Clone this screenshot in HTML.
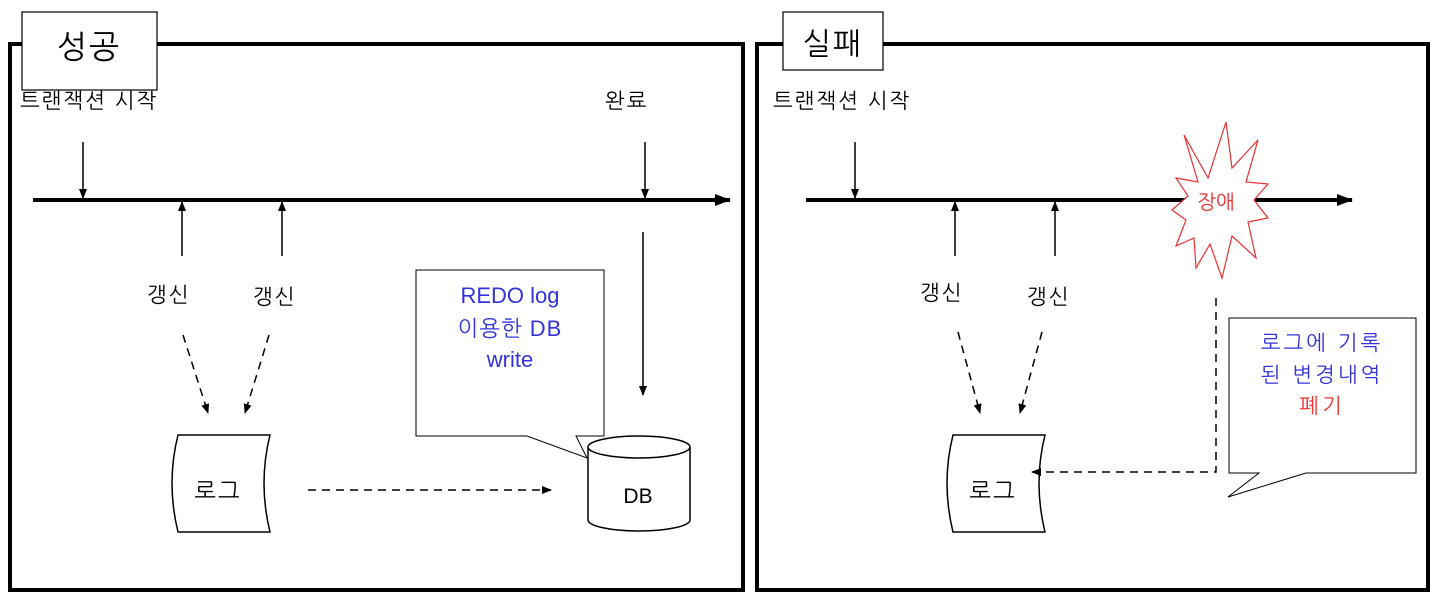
<!DOCTYPE html>
<html><head><meta charset="utf-8"><style>
body{margin:0;background:#fff;}
text{font-family:"Liberation Sans","NanumGothic","Noto Sans CJK KR",sans-serif;}
</style></head><body>
<svg width="1435" height="600" viewBox="0 0 1435 600" xmlns="http://www.w3.org/2000/svg">
<defs>
<marker id="a" markerWidth="10" markerHeight="10" refX="9" refY="5" orient="auto" markerUnits="userSpaceOnUse"><path d="M0,1 L10,5 L0,9 z" fill="#000"/></marker>
<marker id="b" markerWidth="16" markerHeight="14" refX="15" refY="7" orient="auto" markerUnits="userSpaceOnUse"><path d="M0,1 L16,7 L0,13 z" fill="#000"/></marker>
</defs>
<g fill="none" stroke="#000">
<rect x="10" y="44" width="733" height="546" stroke-width="4"/>
<rect x="757" y="44" width="671" height="546" stroke-width="4"/>
</g>
<rect x="22" y="12" width="135" height="78" fill="#fff" stroke="#000" stroke-width="1.2"/>
<rect x="783" y="12" width="100" height="58" fill="#fff" stroke="#000" stroke-width="1.2"/>
<text x="89" y="58" font-size="32" text-anchor="middle" letter-spacing="2">성공</text>
<text x="833" y="54" font-size="30" text-anchor="middle" letter-spacing="2">실패</text>

<g font-size="21" letter-spacing="2">
<text x="20" y="108">트랜잭션 시작</text>
<text x="605" y="108">완료</text>
<text x="773" y="108">트랜잭션 시작</text>
<text x="147" y="302">갱신</text>
<text x="253" y="304">갱신</text>
<text x="920" y="300">갱신</text>
<text x="1027" y="304">갱신</text>
</g>

<!-- log shapes -->
<path d="M178,435 L270,435 Q258,483 270,532 L178,532 Q166,483 178,435 Z" fill="#fff" stroke="#000" stroke-width="1.5"/>
<text x="218" y="499" font-size="23" text-anchor="middle" letter-spacing="2">로그</text>
<path d="M953,435 L1045,435 Q1033,483 1045,532 L953,532 Q941,483 953,435 Z" fill="#fff" stroke="#000" stroke-width="1.5"/>
<text x="993" y="499" font-size="23" text-anchor="middle" letter-spacing="2">로그</text>

<g stroke="#000" fill="none">
<line x1="33" y1="200" x2="730" y2="200" stroke-width="4" marker-end="url(#b)"/>
<line x1="83" y1="142" x2="83" y2="198" stroke-width="1.5" marker-end="url(#a)"/>
<line x1="645" y1="142" x2="645" y2="198" stroke-width="1.5" marker-end="url(#a)"/>
<line x1="182" y1="256" x2="182" y2="202" stroke-width="1.5" marker-end="url(#a)"/>
<line x1="282" y1="256" x2="282" y2="202" stroke-width="1.5" marker-end="url(#a)"/>
<line x1="643" y1="232" x2="643" y2="395" stroke-width="1.5" marker-end="url(#a)"/>
<line x1="183" y1="335" x2="208" y2="413" stroke-width="1.5" stroke-dasharray="8,6" marker-end="url(#a)"/>
<line x1="269" y1="335" x2="245" y2="413" stroke-width="1.5" stroke-dasharray="8,6" marker-end="url(#a)"/>
<line x1="308" y1="490" x2="551" y2="490" stroke-width="1.5" stroke-dasharray="8,6" marker-end="url(#a)"/>

<line x1="806" y1="200" x2="1352" y2="200" stroke-width="4" marker-end="url(#b)"/>
<line x1="855" y1="142" x2="855" y2="198" stroke-width="1.5" marker-end="url(#a)"/>
<line x1="955" y1="256" x2="955" y2="202" stroke-width="1.5" marker-end="url(#a)"/>
<line x1="1055" y1="256" x2="1055" y2="202" stroke-width="1.5" marker-end="url(#a)"/>
<line x1="958" y1="332" x2="980" y2="413" stroke-width="1.5" stroke-dasharray="8,6" marker-end="url(#a)"/>
<line x1="1042" y1="332" x2="1020" y2="413" stroke-width="1.5" stroke-dasharray="8,6" marker-end="url(#a)"/>
<polyline points="1216,298 1216,472 1032,472" stroke-width="1.5" stroke-dasharray="8,6" marker-end="url(#a)"/>
</g>

<!-- DB -->
<g fill="#fff" stroke="#000" stroke-width="1.5">
<path d="M588,447 L588,520 A51,11 0 0 0 690,520 L690,447"/>
<ellipse cx="639" cy="447" rx="51" ry="11"/>
</g>
<text x="638" y="503" font-size="21" text-anchor="middle">DB</text>

<!-- callouts -->
<path d="M416,270 L604,270 L604,436 L576,436 L587,458 L527,436 L416,436 Z" fill="#fff" stroke="#000" stroke-width="1"/>
<g font-size="22" fill="#3333dd" text-anchor="middle">
<text x="510" y="303">REDO log</text>
<text x="510" y="336" letter-spacing="1">이용한 DB</text>
<text x="510" y="367">write</text>
</g>
<path d="M1229,318 L1416,318 L1416,473 L1306,473 L1228,497 L1259,473 L1229,473 Z" fill="#fff" stroke="#000" stroke-width="1"/>
<g font-size="21" text-anchor="middle" letter-spacing="3">
<text x="1322" y="350" fill="#3333dd">로그에 기록</text>
<text x="1322" y="382" fill="#3333dd">된 변경내역</text>
<text x="1322" y="413" fill="#ee3333">폐기</text>
</g>

<!-- burst -->
<polygon points="1184,135 1208,178 1226,122 1232,168 1258,140 1246,182 1268,184 1254,200 1268,218 1248,222 1256,258 1232,236 1222,278 1210,244 1196,268 1194,238 1176,246 1186,220 1172,210 1188,196 1176,178 1198,182" fill="#fff" stroke="#e83030" stroke-width="1.2"/>
<text x="1216" y="209" font-size="20" fill="#e83030" text-anchor="middle">장애</text>
</svg>
</body></html>
